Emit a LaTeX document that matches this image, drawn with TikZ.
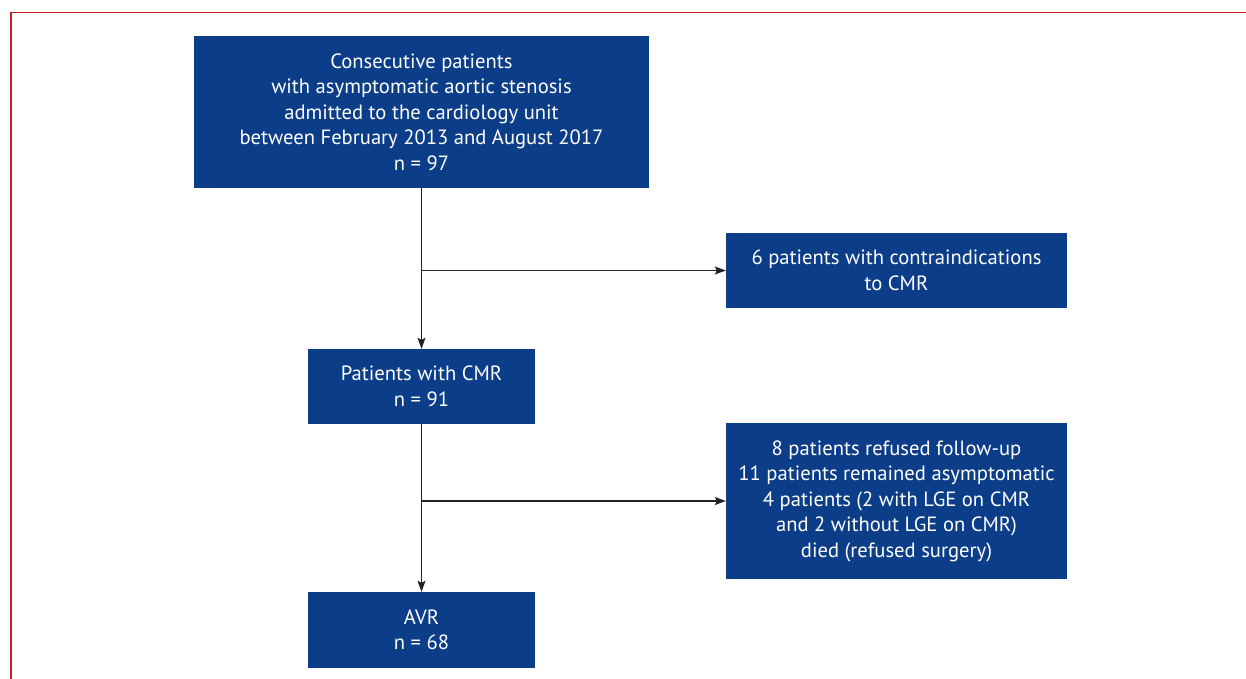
\documentclass[tikz,border=0pt]{standalone}
\usepackage{fontspec}
\setmainfont{PT Sans}
\usetikzlibrary{arrows.meta}
\definecolor{boxblue}{HTML}{0B3D89}
\definecolor{framered}{HTML}{C81E28}
\definecolor{linegray}{HTML}{222222}
\begin{document}
\begin{tikzpicture}[x=1bp,y=-1bp,
  box/.style={fill=boxblue, text=white, align=center, inner sep=0pt,
    font=\fontsize{20.7}{25.6}\selectfont},
  arr/.style={draw=linegray, line width=1.2bp, -{Stealth[length=11bp,width=8bp,inset=2bp]}},
  frameline/.style={draw=framered, line width=1.5bp}]
\useasboundingbox (0,0) rectangle (1246,679);
\draw[frameline] (11,680) -- (11,12.5) -- (1247,12.5);

\node[box, minimum width=454bp, minimum height=152bp] (b1) at (421.5,112)
  {Consecutive patients\\with asymptomatic aortic stenosis\\admitted to the cardiology unit\\between February 2013 and August 2017\\n = 97};
\node[box, minimum width=341bp, minimum height=75bp] (b2) at (896.5,270.5)
  {6 patients with contraindications\\to CMR};
\node[box, minimum width=227bp, minimum height=75bp] (b3) at (421.5,386.5)
  {Patients with CMR\\n = 91};
\node[box, minimum width=341bp, minimum height=156bp] (b4) at (896.5,501)
  {8 patients refused follow-up\\11 patients remained asymptomatic\\4 patients (2 with LGE on CMR\\and 2 without LGE on CMR)\\died (refused surgery)};
\node[box, minimum width=227bp, minimum height=76bp] (b5) at (421.5,630)
  {AVR\\n = 68};

\coordinate (j1) at (b1.south |- b2.west);
\coordinate (j2) at (b3.south |- b4.west);
\draw[arr] (b1.south) -- (b3.north);
\draw[arr] (j1) -- (b2.west);
\draw[arr] (b3.south) -- (b5.north);
\draw[arr] (j2) -- (b4.west);
\end{tikzpicture}
\end{document}
